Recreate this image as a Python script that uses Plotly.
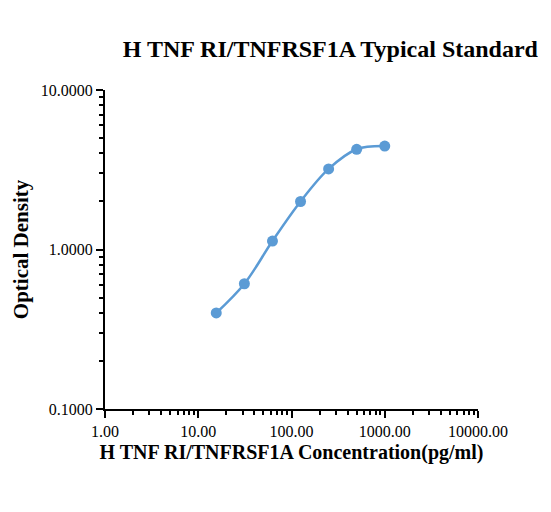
import plotly.graph_objects as go

conc = [15.6, 31.25, 62.5, 125, 250, 500, 1000]
od = [0.40, 0.61, 1.13, 2.0, 3.2, 4.25, 4.45]
xticks = [1, 10, 100, 1000, 10000]
xlabels = ["1.00", "10.00", "100.00", "1000.00", "10000.00"]
yticks = [0.1, 1, 10]
ylabels = ["0.1000", "1.0000", "10.0000"]

font = "Liberation Serif"
fig = go.Figure(go.Scatter(x=conc, y=od, mode="lines+markers",
    line=dict(color="#5b9bd5", width=2.5, shape="spline"),
    marker=dict(color="#5b9bd5", size=11)))
ax = dict(type="log", showgrid=False, zeroline=False, showline=True, linecolor="black", linewidth=2,
          ticks="outside", ticklen=7, tickwidth=2, tickcolor="black",
          minor=dict(ticks="outside", ticklen=4, tickwidth=1.5, tickcolor="black", dtick="D1"),
          tickfont=dict(family=font, size=16, color="black"))
fig.update_xaxes(**ax, range=[0, 4], tickvals=xticks, ticktext=xlabels,
    title=dict(text="<b>H TNF RI/TNFRSF1A Concentration(pg/ml)</b>", font=dict(family=font, size=20, color="black"), standoff=6))
fig.update_yaxes(**ax, range=[-1, 1], tickvals=yticks, ticktext=ylabels,
    title=dict(text="<b>Optical Density</b>", font=dict(family=font, size=21, color="black"), standoff=6))
fig.update_layout(width=551, height=512, margin=dict(l=94, r=81, t=82, b=111),
    plot_bgcolor="white", paper_bgcolor="white", showlegend=False,
    title=dict(text="<b>H TNF RI/TNFRSF1A Typical Standard</b>", x=0.585, xanchor="center", y=0.92, yanchor="middle",
               font=dict(family=font, size=24, color="black")))
fig.update_layout(font=dict(family=font))
fig.write_html("out.html")
